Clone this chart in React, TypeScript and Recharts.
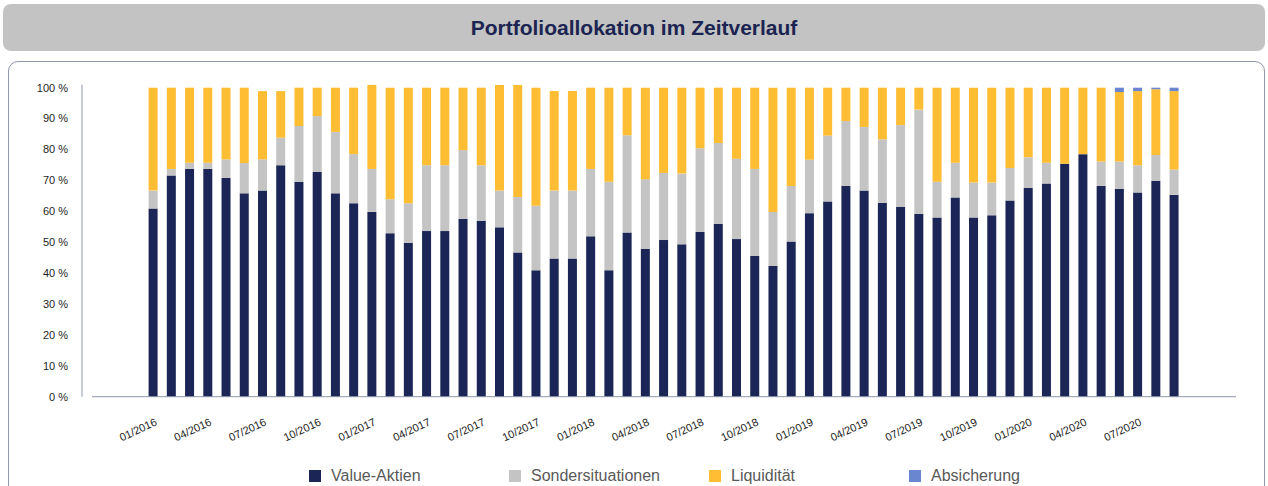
import { BarChart, Bar, XAxis, YAxis } from 'recharts'

const months = [
  '01/2016', '02/2016', '03/2016', '04/2016', '05/2016', '06/2016', '07/2016', '08/2016', '09/2016', '10/2016', '11/2016', '12/2016',
  '01/2017', '02/2017', '03/2017', '04/2017', '05/2017', '06/2017', '07/2017', '08/2017', '09/2017', '10/2017', '11/2017', '12/2017',
  '01/2018', '02/2018', '03/2018', '04/2018', '05/2018', '06/2018', '07/2018', '08/2018', '09/2018', '10/2018', '11/2018', '12/2018',
  '01/2019', '02/2019', '03/2019', '04/2019', '05/2019', '06/2019', '07/2019', '08/2019', '09/2019', '10/2019', '11/2019', '12/2019',
  '01/2020', '02/2020', '03/2020', '04/2020', '05/2020', '06/2020', '07/2020', '08/2020', '09/2020',
]

const valueAktien = [
  60.9, 71.6, 73.7, 73.7, 70.8, 65.8, 66.7, 74.9, 69.6, 72.8, 65.8, 62.6,
  59.8, 52.9, 49.8, 53.6, 53.6, 57.6, 56.9, 54.8, 46.7, 40.9, 44.7, 44.7,
  51.9, 40.9, 53.1, 47.8, 50.7, 49.3, 53.3, 56.0, 51.0, 45.5, 42.3, 50.2,
  59.4, 63.2, 68.2, 66.7, 62.7, 61.5, 59.1, 58.0, 64.5, 58.0, 58.7, 63.5,
  67.6, 69.0, 75.4, 78.5, 68.2, 67.3, 66.1, 69.9, 65.3,
]

const sondersituationen = [
  5.8, 2.1, 2.0, 2.0, 6.0, 9.8, 10.1, 8.9, 18.0, 18.0, 19.9, 15.9,
  13.9, 11.0, 12.8, 21.3, 21.3, 22.2, 18.0, 11.9, 17.9, 20.9, 22.0, 22.0,
  21.8, 28.7, 31.5, 22.6, 21.7, 22.9, 27.1, 26.1, 26.0, 28.2, 17.5, 18.0,
  17.3, 21.3, 21.0, 20.6, 20.6, 26.4, 33.8, 11.6, 11.2, 11.3, 10.6, 10.5,
  9.9, 6.7, 0, 0, 7.9, 8.8, 8.8, 8.3, 8.2,
]

const liquiditaet = [
  33.3, 26.3, 24.3, 24.3, 23.2, 24.4, 22.1, 15.1, 12.4, 9.2, 14.3, 21.5,
  27.2, 36.1, 37.4, 25.1, 25.1, 20.2, 25.1, 34.2, 36.3, 38.2, 32.2, 32.2,
  26.3, 30.4, 15.4, 29.6, 27.6, 27.8, 19.6, 17.9, 23.0, 26.3, 40.2, 31.8,
  23.3, 15.5, 10.8, 12.7, 16.7, 12.1, 7.1, 30.4, 24.3, 30.7, 30.7, 26.0,
  22.5, 24.3, 24.6, 21.5, 23.9, 22.5, 24.0, 21.3, 25.4,
]

const absicherung = [
  0, 0, 0, 0, 0, 0, 0, 0, 0, 0, 0, 0,
  0, 0, 0, 0, 0, 0, 0, 0, 0, 0, 0, 0,
  0, 0, 0, 0, 0, 0, 0, 0, 0, 0, 0, 0,
  0, 0, 0, 0, 0, 0, 0, 0, 0, 0, 0, 0,
  0, 0, 0, 0, 0, 1.4, 1.1, 0.5, 1.1,
]

const yTicks = [0, 10, 20, 30, 40, 50, 60, 70, 80, 90, 100]

const series = [
  { key: 'value', label: 'Value-Aktien', color: '#1b2656' },
  { key: 'sonder', label: 'Sondersituationen', color: '#c4c4c4' },
  { key: 'liquid', label: 'Liquidität', color: '#ffbd33' },
  { key: 'hedge', label: 'Absicherung', color: '#6b86d1' },
]

const data = months.map((m, i) => ({
  month: m,
  value: valueAktien[i],
  sonder: sondersituationen[i],
  liquid: liquiditaet[i],
  hedge: absicherung[i],
}))

const font = '"Liberation Sans", Arial, sans-serif'
const axisColor = '#8f97a9'

function MonthTick({ x, y, payload }: any) {
  return (
    <g transform={`translate(${x + 5},${y + 20})`}>
      <text textAnchor="end" transform="rotate(-25)" fontSize={11} fill="#222" fontFamily={font}>
        {payload.value}
      </text>
    </g>
  )
}

export default function App() {
  return (
    <div style={{ position: 'relative', width: 1268, height: 486, overflow: 'hidden', background: '#fff', fontFamily: font }}>
      <style>{'body{margin:0}'}</style>
      <div
        style={{
          position: 'absolute', left: 3, top: 4, width: 1262, height: 47,
          background: '#c3c3c3', borderRadius: 8,
          display: 'flex', alignItems: 'center', justifyContent: 'center',
          color: '#1c2452', fontWeight: 'bold', fontSize: 21,
        }}
      >
        Portfolioallokation im Zeitverlauf
      </div>
      <div
        style={{
          position: 'absolute', left: 8, top: 61, width: 1257, height: 460,
          border: `1.5px solid ${axisColor}`, borderRadius: 10, boxSizing: 'border-box',
        }}
      />
      <div style={{ position: 'absolute', left: 0, top: 0 }}>
        <BarChart width={1268} height={486} data={data} margin={{ top: 84.6, right: 32, bottom: 39.3, left: 0 }} barSize={9}>
          <XAxis
            dataKey="month"
            interval={2}
            tickLine={false}
            axisLine={{ stroke: axisColor }}
            padding={{ left: 51.6, right: 53.2 }}
            height={50}
            tick={<MonthTick />}
          />
          <YAxis
            yAxisId="inner"
            width={10}
            domain={[0, 101]}
            ticks={yTicks}
            tick={false}
            axisLine={false}
            tickLine={false}
          />
          <YAxis
            yAxisId="outer"
            width={82}
            domain={[0, 101]}
            ticks={yTicks}
            tickLine={false}
            tickMargin={8}
            axisLine={{ stroke: axisColor }}
            tick={{ fontSize: 11, fill: '#1e1e1e', fontFamily: font }}
            tickFormatter={(v: any) => `${v} %`}
          />
          {series.map((s) => (
            <Bar key={s.key} dataKey={s.key} stackId="a" yAxisId="outer" fill={s.color} isAnimationActive={false} />
          ))}
        </BarChart>
      </div>
      {series.map((s, i) => (
        <div
          key={s.key}
          style={{ position: 'absolute', left: 309 + i * 200, top: 467, display: 'flex', alignItems: 'center', fontSize: 16, color: '#595959' }}
        >
          <span style={{ display: 'inline-block', width: 12, height: 12, background: s.color, marginRight: 10 }} />
          {s.label}
        </div>
      ))}
    </div>
  )
}
